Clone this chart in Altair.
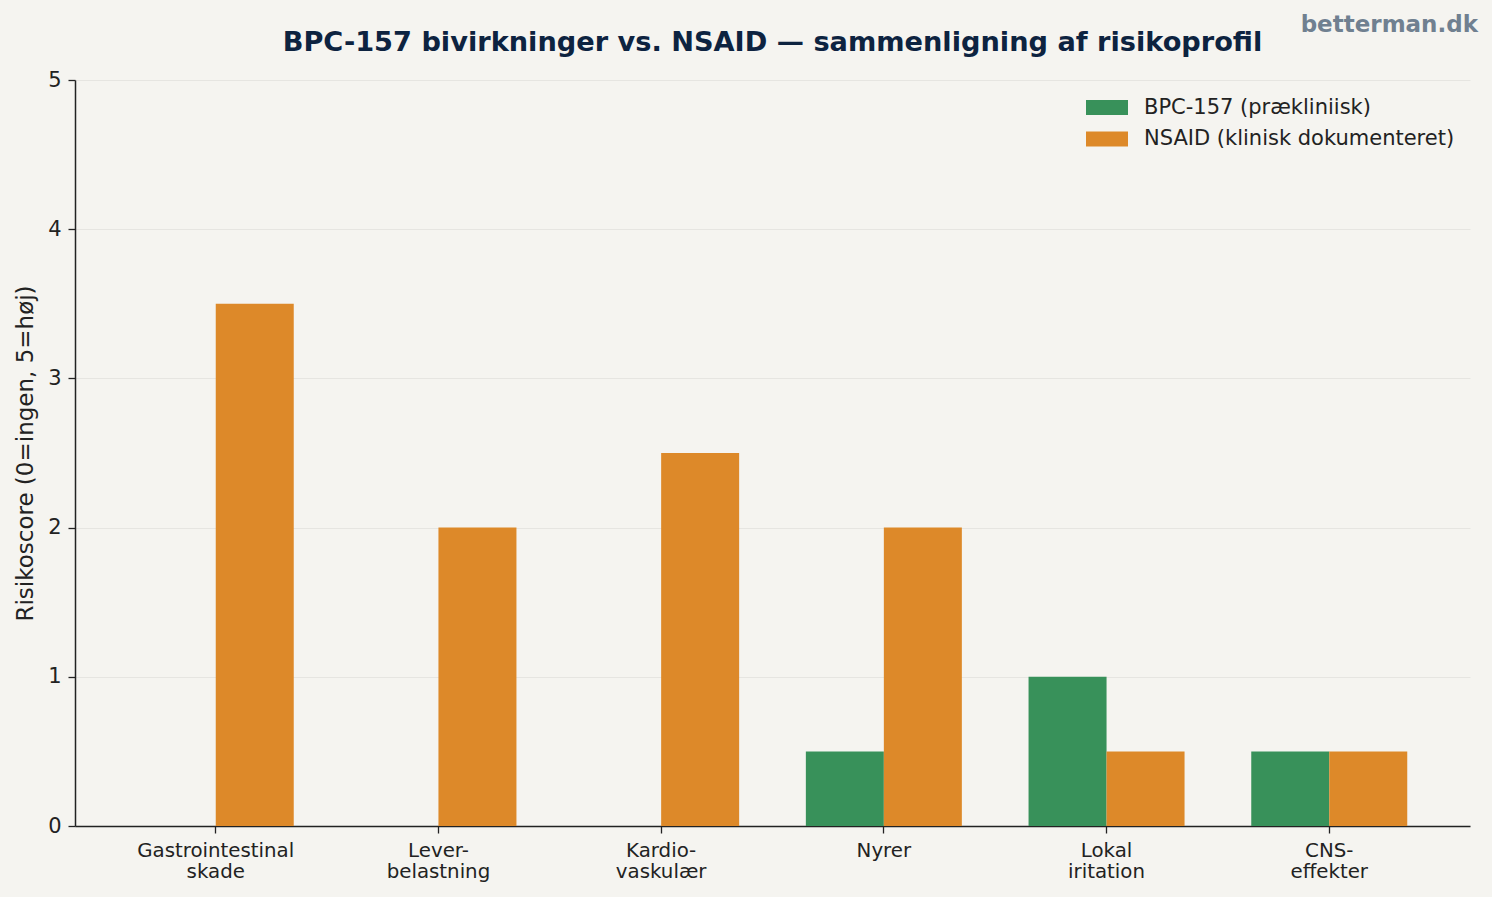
import altair as alt
import pandas as pd

# Risk categories (two-line tick labels) and risk scores per treatment
categories = [
    "Gastrointestinal\nskade",
    "Lever-\nbelastning",
    "Kardio-\nvaskulær",
    "Nyrer",
    "Lokal\niritation",
    "CNS-\neffekter",
]
series = ["BPC-157 (prækliniisk)", "NSAID (klinisk dokumenteret)"]
bpc_scores = [0, 0, 0, 0.5, 1, 0.5]
nsaid_scores = [3.5, 2, 2.5, 2, 0.5, 0.5]
colors = ["#38915a", "#dd8929"]
y_ticks = [0, 1, 2, 3, 4, 5]

title_text = "BPC-157 bivirkninger vs. NSAID — sammenligning af risikoprofil"
watermark_text = "betterman.dk"

rows = []
for cat, b, n in zip(categories, bpc_scores, nsaid_scores):
    rows.append({"kategori": cat, "serie": series[0], "score": b})
    rows.append({"kategori": cat, "serie": series[1], "score": n})
df = pd.DataFrame(rows)

FONT = "DejaVu Sans"
INK = "#222222"
BG = "#f5f4f0"

bars = alt.Chart(df).mark_bar().encode(
    x=alt.X(
        "kategori:N",
        sort=categories,
        scale=alt.Scale(paddingInner=0, paddingOuter=0.132),
        axis=alt.Axis(
            title=None,
            labelAngle=0,
            labelExpr="split(datum.label, '\\n')",
            labelFont=FONT,
            labelFontSize=19.8,
            labelLineHeight=21,
            labelColor=INK,
            labelPadding=7,
            labelBaseline="top",
            tickSize=7,
            tickColor=INK,
            tickWidth=1.3,
            domainColor=INK,
            domainWidth=1.5,
            grid=False,
        ),
    ),
    xOffset=alt.XOffset(
        "serie:N",
        sort=series,
        scale=alt.Scale(paddingInner=0, paddingOuter=0.4276),
    ),
    y=alt.Y(
        "score:Q",
        scale=alt.Scale(domain=[0, 5], nice=False),
        axis=alt.Axis(
            values=y_ticks,
            title="Risikoscore (0=ingen, 5=høj)",
            titleFont=FONT,
            titleFontSize=23,
            titleFontWeight="normal",
            titleColor=INK,
            titlePadding=10,
            labelFont=FONT,
            labelFontSize=21,
            labelColor=INK,
            labelPadding=7,
            tickSize=7,
            tickColor=INK,
            tickWidth=1.3,
            domainColor=INK,
            domainWidth=1.5,
            grid=True,
            gridColor="#e6e5e1",
            gridWidth=1.2,
        ),
    ),
    color=alt.Color(
        "serie:N",
        sort=series,
        scale=alt.Scale(domain=series, range=colors),
        legend=alt.Legend(
            title=None,
            orient="none",
            legendX=1021.5,
            legendY=17,
            padding=0,
            symbolType="M-2,-0.714H2V0.714H-2Z",
            symbolSize=441,
            symbolStrokeWidth=0,
            symbolOpacity=1,
            labelFont=FONT,
            labelFontSize=21,
            labelColor=INK,
            labelOffset=26.5,
            labelLimit=0,
            rowPadding=9.5,
        ),
    ),
)

# Headline and site mark, drawn as text in the top margin
headline = alt.Chart(pd.DataFrame({"t": [title_text]})).mark_text(
    align="center",
    baseline="alphabetic",
    font=FONT,
    fontSize=27.2,
    fontWeight="bold",
    color="#0d2340",
).encode(x=alt.value(697.5), y=alt.value(-29), text="t:N")

watermark = alt.Chart(pd.DataFrame({"t": [watermark_text]})).mark_text(
    align="right",
    baseline="middle",
    font=FONT,
    fontSize=23,
    fontWeight="bold",
    color="#708090",
).encode(x=alt.value(1403), y=alt.value(-55), text="t:N")

chart = alt.layer(bars, headline, watermark).properties(
    width=1395,
    height=746,
    padding={"left": 75, "top": 80, "right": 22, "bottom": 71},
    autosize=alt.AutoSizeParams(type="none"),
    background=BG,
).configure_view(stroke=None).configure_axis(labelFlush=False)

chart.save("out.html", embed_options={"renderer": "svg", "actions": False})
